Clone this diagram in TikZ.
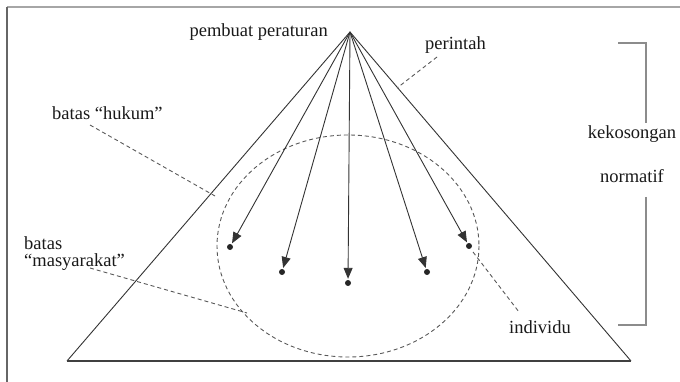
\documentclass[tikz,border=0pt]{standalone}
\usepackage{fontspec}
\setmainfont{Liberation Serif}
\usetikzlibrary{arrows.meta}

\begin{document}
\begin{tikzpicture}[x=1pt,y=-1pt,
lab/.style={font=\fontsize{18.5}{17}\selectfont,inner sep=0pt,text=black!90},
arr/.style={-{Triangle[length=11pt,width=9pt]},line width=0.9pt,black!80,shorten >=1pt},
dot/.style={circle,fill=black!85,inner sep=0pt,minimum size=6pt},
lead/.style={dash pattern=on 4pt off 3pt,line width=0.9pt,black!65},
edge/.style={line width=0.9pt,black!80},
brk/.style={line width=1.6pt,black!45}]
\useasboundingbox (0,0) rectangle (680,382);
% frame
\draw[line width=1.2pt,black!35] (7,7) -- (680,7);
\draw[line width=1.6pt,black!60] (7,7) -- (7,382);
% triangle
\coordinate (top) at (350,32);
\coordinate (bl) at (67,361);
\coordinate (br) at (631,361);
\draw[edge] (bl) -- (top) -- (br);
\draw[line width=1.6pt,black!75] (bl) -- (br);
% society
\draw[lead] (348,246) ellipse [x radius=131,y radius=111];
\node[dot] (i1) at (230,247) {};
\node[dot] (i2) at (282,272) {};
\node[dot] (i3) at (348,283) {};
\node[dot] (i4) at (427,272) {};
\node[dot] (i5) at (469,246) {};
\foreach \i in {1,...,5}
  \draw[arr] (top) -- (i\i);
% labels
\node[lab,anchor=base east] (maker) at (328,37) {pembuat peraturan};
\node[lab,anchor=base west] (order) at (425,50) {perintah};
\node[lab,anchor=base west] (law) at (52,120) {batas “hukum”};
\node[lab,anchor=west,align=left] (soc) at (24,254) {batas\\“masyarakat”};
\node[lab,anchor=base west] (indiv) at (509,333) {individu};
\node[lab,anchor=base] (gap1) at (632,139) {kekosongan};
\node[lab,anchor=base] (gap2) at (632,183) {normatif};
% leaders
\coordinate (orderA) at (437,57);
\coordinate (orderB) at (397,88);
\coordinate (lawA) at (90,125);
\coordinate (lawB) at (215,196);
\coordinate (socA) at (90,268);
\coordinate (socB) at (247,313);
\coordinate (indivA) at (519,312);
\draw[lead] (i5) ++(4,6) coordinate (indivB);
\draw[lead] (orderA) -- (orderB);
\draw[lead] (lawA) -- (lawB);
\draw[lead] (socA) -- (socB);
\draw[lead] (indivB) -- (indivA);
% bracket
\draw[brk] (618,43) -- (646,43) -- (646,123);
\draw[brk] (646,197) -- (646,325) -- (618,325);
\end{tikzpicture}
\end{document}
